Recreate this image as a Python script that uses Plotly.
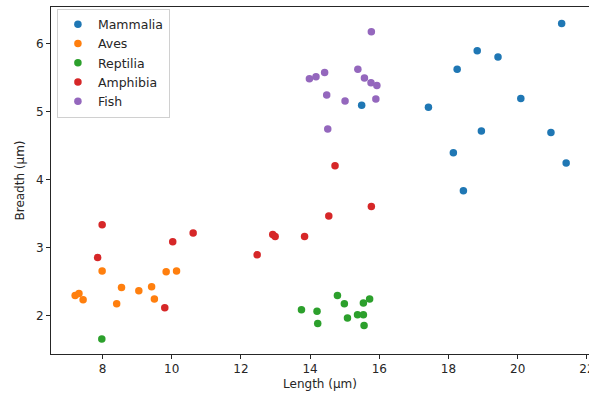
import plotly.graph_objects as go

classes = ["Mammalia", "Aves", "Reptilia", "Amphibia", "Fish"]
colors = ["#1f77b4", "#ff7f0e", "#2ca02c", "#d62728", "#9467bd"]

mammalia_len = [21.27, 18.83, 19.43, 18.25, 20.09, 17.42, 18.95, 20.96, 18.14, 21.40, 18.43, 15.49]
mammalia_br = [6.29, 5.89, 5.80, 5.62, 5.19, 5.06, 4.71, 4.69, 4.39, 4.24, 3.83, 5.09]

aves_len = [7.99, 9.84, 10.14, 8.55, 9.42, 9.05, 7.21, 7.32, 7.44, 9.50, 8.41]
aves_br = [2.65, 2.64, 2.65, 2.41, 2.42, 2.36, 2.29, 2.32, 2.23, 2.24, 2.17]

reptilia_len = [7.98, 13.75, 14.20, 14.22, 14.79, 14.99, 15.08, 15.37, 15.54, 15.54, 15.72, 15.56]
reptilia_br = [1.65, 2.08, 2.06, 1.88, 2.29, 2.17, 1.96, 2.01, 2.01, 2.18, 2.24, 1.85]

amphibia_len = [7.99, 10.62, 10.03, 7.86, 9.80, 14.72, 15.77, 14.54, 12.92, 12.99, 13.84, 12.47]
amphibia_br = [3.33, 3.21, 3.08, 2.85, 2.11, 4.20, 3.60, 3.46, 3.19, 3.16, 3.16, 2.89]

fish_len = [15.77, 13.98, 14.17, 14.42, 15.38, 15.57, 15.76, 15.93, 14.48, 15.01, 15.90, 14.51]
fish_br = [6.17, 5.48, 5.51, 5.57, 5.62, 5.49, 5.42, 5.38, 5.24, 5.15, 5.18, 4.74]

series = [
    (mammalia_len, mammalia_br),
    (aves_len, aves_br),
    (reptilia_len, reptilia_br),
    (amphibia_len, amphibia_br),
    (fish_len, fish_br),
]

x_ticks = [8, 10, 12, 14, 16, 18, 20, 22]
y_ticks = [2, 3, 4, 5, 6]

fig = go.Figure()
for name, color, (xs, ys) in zip(classes, colors, series):
    fig.add_trace(go.Scatter(
        x=xs, y=ys, mode="markers", name=name,
        marker=dict(color=color, size=7.5, line=dict(width=0)),
    ))

font = dict(family="DejaVu Sans", size=12, color="#262626")
fig.update_layout(
    width=589, height=394,
    margin=dict(l=51, r=0, t=7, b=40),
    paper_bgcolor="white", plot_bgcolor="white",
    font=font,
    showlegend=True,
    legend=dict(
        x=0.011, y=0.995, xanchor="left", yanchor="top",
        bgcolor="rgba(255,255,255,0.8)", bordercolor="#d0d0d0", borderwidth=1,
        font=dict(family="DejaVu Sans", size=12.5, color="#262626"),
        tracegroupgap=0,
    ),
)
fig.update_xaxes(
    range=[6.512, 22.06], tickvals=x_ticks, ticktext=[str(v) for v in x_ticks],
    showgrid=False, zeroline=False,
    showline=True, linecolor="#262626", linewidth=1, mirror=True,
    ticks="outside", ticklen=4, tickcolor="#262626",
    ticklabeloverflow="allow",
    title=dict(text="Length (μm)", font=font, standoff=4),
    automargin=False,
)
fig.update_yaxes(
    range=[1.431, 6.534], tickvals=y_ticks, ticktext=[str(v) for v in y_ticks],
    showgrid=False, zeroline=False,
    showline=True, linecolor="#262626", linewidth=1, mirror=False,
    ticks="outside", ticklen=4, tickcolor="#262626",
    title=dict(text="Breadth (μm)", font=font, standoff=8),
    automargin=False,
)

fig.write_html(
    "out.html",
    config={"displayModeBar": False},
    post_script="document.body.style.margin='0';document.body.style.overflow='hidden';",
)
